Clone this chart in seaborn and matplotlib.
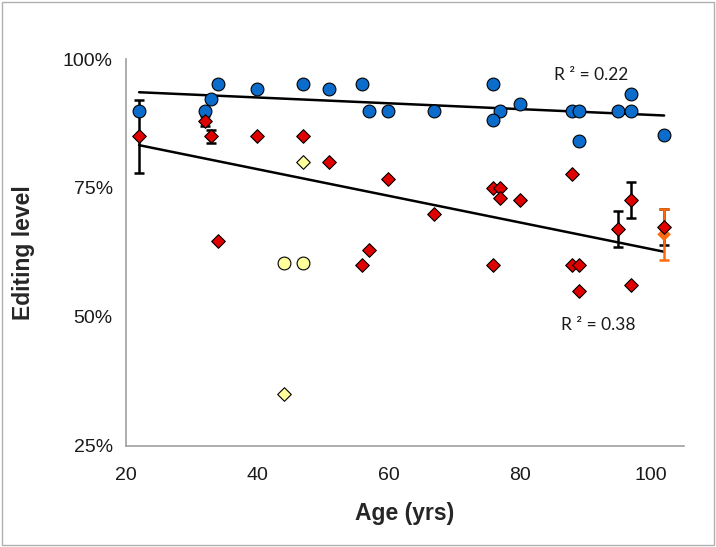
import numpy as np
import pandas as pd
import matplotlib
matplotlib.use("Agg")
import matplotlib.pyplot as plt
import seaborn as sns
from matplotlib.ticker import FixedLocator, FuncFormatter

sns.set_style("white")
plt.rcParams['font.family'] = ['Liberation Sans', 'DejaVu Sans']

# ---- data ----
blue_age = [22, 32, 33, 34, 40, 47, 51, 56, 57, 60, 67, 76, 77, 76, 80, 88, 89, 89, 95, 97, 97, 102]
blue_level = [0.90, 0.90, 0.922, 0.951, 0.942, 0.951, 0.942, 0.951, 0.90, 0.90, 0.90,
              0.951, 0.90, 0.882, 0.913, 0.90, 0.90, 0.841, 0.90, 0.90, 0.933, 0.853]

red_age = [22, 32, 33, 34, 40, 47, 51, 57, 56, 60, 67, 76, 77, 77, 80, 76, 88, 88, 89, 89, 95, 97, 97, 102]
red_level = [0.85, 0.88, 0.85, 0.648, 0.85, 0.85, 0.80, 0.63, 0.601, 0.768, 0.70, 0.75, 0.75, 0.73,
             0.726, 0.601, 0.778, 0.60, 0.60, 0.551, 0.671, 0.726, 0.561, 0.675]

# red points that carry error bars
err_age = [22, 32, 33, 95, 97, 102]
err_level = [0.85, 0.88, 0.85, 0.671, 0.726, 0.675]
err_size = [0.071, 0.009, 0.012, 0.035, 0.035, 0.035]

yellow_circ_age = [44, 47]
yellow_circ_level = [0.604, 0.604]
yellow_diam_age = [47, 44]
yellow_diam_level = [0.80, 0.351]

orange_age = [102]
orange_level = [0.66]
orange_err = [0.05]

r2_blue = 0.22
r2_red = 0.38

yticks = [0.25, 0.50, 0.75, 1.00]
xticks = [20, 40, 60, 80, 100]

blue_df = pd.DataFrame({'age': blue_age, 'level': blue_level})
red_df = pd.DataFrame({'age': red_age, 'level': red_level})

fig = plt.figure(figsize=(7.16, 5.47), dpi=100)
ax = fig.add_axes([0.176, 0.185, 0.779, 0.707])

# trend lines
sns.regplot(data=blue_df, x='age', y='level', scatter=False, ci=None, ax=ax,
            line_kws=dict(color='black', lw=1.8, zorder=2))
sns.regplot(data=red_df, x='age', y='level', scatter=False, ci=None, ax=ax,
            line_kws=dict(color='black', lw=1.8, zorder=2))

# error bars
ax.errorbar(err_age, err_level, yerr=err_size, fmt='none', ecolor='black',
            elinewidth=1.8, capsize=3.5, capthick=1.8, zorder=3)
ax.errorbar(orange_age, orange_level, yerr=orange_err, fmt='none', ecolor='#ff6a10',
            elinewidth=1.8, capsize=3.5, capthick=1.8, zorder=3)

# points
sns.scatterplot(data=blue_df, x='age', y='level', ax=ax, marker='o', s=85,
                color='#0b6ccc', edgecolor='black', linewidth=0.8, zorder=4)
sns.scatterplot(data=red_df, x='age', y='level', ax=ax, marker='D', s=48,
                color='#e00000', edgecolor='black', linewidth=0.8, zorder=5)
sns.scatterplot(x=yellow_circ_age, y=yellow_circ_level, ax=ax, marker='o', s=85,
                color='#ffff9c', edgecolor='black', linewidth=0.8, zorder=4)
sns.scatterplot(x=yellow_diam_age, y=yellow_diam_level, ax=ax, marker='D', s=48,
                color='#ffff9c', edgecolor='black', linewidth=0.8, zorder=4)
sns.scatterplot(x=orange_age, y=orange_level, ax=ax, marker='D', s=48,
                color='#ff6a10', edgecolor='none', zorder=4)

# axes styling
ax.set_xlim(20, 105)
ax.set_ylim(0.25, 1.0)
ax.xaxis.set_major_locator(FixedLocator(xticks))
ax.yaxis.set_major_locator(FixedLocator(yticks))
ax.yaxis.set_major_formatter(FuncFormatter(lambda v, p: f'{v*100:.0f}%'))
for side in ['top', 'right']:
    ax.spines[side].set_visible(False)
for side in ['left', 'bottom']:
    ax.spines[side].set_color('#a0a0a0')
    ax.spines[side].set_linewidth(1.2)
ax.tick_params(axis='both', direction='out', length=5.5, width=1, color='#a0a0a0',
               labelsize=14, labelcolor='#1a1a1a', pad=4)
ax.tick_params(axis='x', pad=10)
ax.set_xlabel('Age (yrs)', fontsize=16.5, fontweight='bold', labelpad=13)
ax.set_ylabel('Editing level', fontsize=16.5, fontweight='bold', labelpad=20)

ax.text(0.774, 0.854, f'R ² = {r2_blue:.2f}', transform=fig.transFigure, fontsize=12.5,
        family=['Lato', 'DejaVu Sans'], color='#1a1a1a')
ax.text(0.783, 0.397, f'R ² = {r2_red:.2f}', transform=fig.transFigure, fontsize=12.5,
        family=['Lato', 'DejaVu Sans'], color='#1a1a1a')

# light frame around figure
fig.patches.append(plt.Rectangle((0.003, 0.003), 0.994, 0.994, transform=fig.transFigure,
                                 fill=False, edgecolor='#b0b0b0', lw=1))

fig.savefig('out.png', dpi=100)
